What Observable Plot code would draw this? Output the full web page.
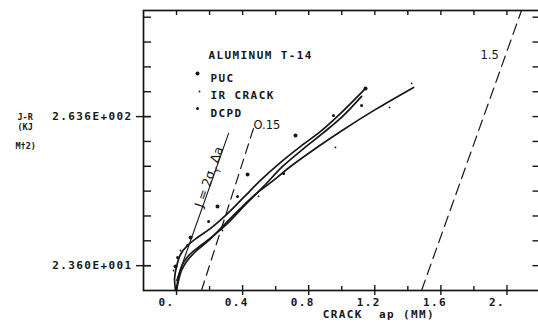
<!DOCTYPE html>
<html><head><meta charset="utf-8">
<script src="https://cdn.jsdelivr.net/npm/d3@7"></script>
<script src="https://cdn.jsdelivr.net/npm/@observablehq/plot@0.6"></script>
<style>
html,body{margin:0;padding:0;background:#fff;}
#chart{width:538px;height:326px;overflow:hidden;}
</style></head><body><div id="chart"></div>
<script>
// ---------- data (crack extension Δa in mm, J in kJ/m²) ----------
const chartTitle = "ALUMINUM T-14";
const seriesNames = ["PUC", "IR CRACK", "DCPD"];

// fitted J-R curves
const pucFitDa  = [-0.006,-0.012,0,0.024,0.067,0.127,0.206,0.297,0.400,0.508,0.630,0.751,0.872,0.993,1.144];
const pucFitJ   = [-16.4,2.9,22.3,41.6,56.1,69.0,83.5,104.4,131.8,160.8,189.8,215.6,239.7,268.7,309.0];
const dcpdFitDa = [0,0.012,0.036,0.079,0.139,0.218,0.315,0.418,0.527,0.642,0.763,0.884,1.005,1.120];
const dcpdFitJ  = [-16.4,6.2,25.5,41.6,54.5,70.6,93.1,122.1,151.1,183.3,210.7,236.5,263.9,296.1];
const irFitDa   = [0,0.012,0.030,0.061,0.109,0.188,0.285,0.387,0.484,0.587,0.690,0.841,0.993,1.205,1.435];
const irFitJ    = [-16.4,-0.3,15.8,30.3,44.8,62.5,88.3,115.7,139.8,160.8,183.3,212.3,239.7,275.2,310.6];

// measured points
const pucPtDa  = [1.144,0.430,0.720,0.248,0.085,-0.006];
const pucPtJ   = [309.0,170.5,233.3,118.9,69.0,22.3];
const irPtDa   = [0.962,1.289,1.423,0.496,0.278,0.024,-0.018];
const irPtJ    = [213.9,278.4,317.0,135.0,80.2,48.0,15.8];
const dcpdPtDa = [1.120,0.950,0.369,0.194,0.067,0.006,0.648];
const dcpdPtJ  = [281.6,265.5,135.0,94.7,56.1,36.8,172.1];

// construction lines
const bluntDa = [0, 0.315];        const bluntJ = [0, 236.5];     // J = 2σY Δa
const off015Da = [0.151, 0.466];   const off015J = [-16.4, 244.6]; // 0.15 offset
const off15Da = [1.483, 2.088];    const off15J = [-16.4, 434.4];  // 1.5 offset

// axis ticks
const xTickVals   = [0, 0.4, 0.8, 1.2, 1.6, 2.0];
const xTickLabels = ["0.", "0.4", "0.8", "1.2", "1.6", "2."];
const xMinorVals  = [0.2, 0.6, 1.0, 1.4, 1.8, 2.2];
const xTopVals    = [0,0.2,0.4,0.6,0.8,1.0,1.2,1.4,1.6,1.8,2.0,2.2];
const yTickVals   = [23.6,63.6,103.6,143.6,183.6,223.6,263.6,303.6,343.6,383.6,423.6];
const yLabelVals  = [23.6, 263.6];
const yLabelTexts = ["2.360E+001", "2.636E+002"];
const yTitleLines = ["J-R", "(KJ", "M\u20202)"];
const xTitle = "CRACK  ap (MM)";

// ---------- layout ----------
const W = 538, H = 326, mL = 143, mR = -1.5, mT = 10, mB = 36;
const fw = W - mL - mR, fh = H - mT - mB;
const ink = "#161616";
const mono = "'DejaVu Sans Mono', monospace";
const hand = "'DejaVu Sans', sans-serif";
const zip = (a, b) => a.map((v, i) => ({da: v, J: b[i]}));
const monoText = {fontFamily: mono, fontWeight: "bold", fontSize: 11, fill: ink};
const titleText = {fontFamily: mono, fontWeight: "bold", fontSize: 8.5, fill: ink, textAnchor: "start", frameAnchor: "left"};

const chart = Plot.plot({
  width: W, height: H,
  marginLeft: mL, marginRight: mR, marginTop: mT, marginBottom: mB,
  x: {domain: [-0.2, 2.2], axis: null},
  y: {domain: [-16.4, 434.4], axis: null},
  style: {background: "#fff", color: ink, overflow: "hidden"},
  marks: [
    // ticks
    Plot.ruleX(xMinorVals, {x: d => d, insetTop: fh - 4, stroke: ink, strokeWidth: 1.4}),
    Plot.ruleX(xTickVals, {x: d => d, insetTop: fh - 5, insetBottom: -5, stroke: ink, strokeWidth: 1.4}),
    Plot.ruleX(xTopVals, {x: d => d, insetBottom: fh - 5, stroke: ink, strokeWidth: 1.4}),
    Plot.ruleY(yTickVals, {y: d => d, insetRight: fw - 8, stroke: ink, strokeWidth: 1.4}),
    Plot.ruleY(yLabelVals, {y: d => d, insetLeft: -7, insetRight: fw - 8, stroke: ink, strokeWidth: 1.4}),
    Plot.ruleY(yTickVals, {y: d => d, insetLeft: fw - 7, stroke: ink, strokeWidth: 1.4}),
    Plot.frame({stroke: ink, strokeWidth: 1.7}),
    // tick labels and titles
    Plot.text(xTickVals, {x: d => d, text: (d, i) => xTickLabels[i], frameAnchor: "bottom", dy: 15.5, dx: -18, textAnchor: "start", ...monoText}),
    Plot.text(yLabelVals, {y: d => d, text: (d, i) => yLabelTexts[i], frameAnchor: "left", dx: -11, textAnchor: "end", ...monoText}),
    Plot.text([xTitle], {text: d => d, frameAnchor: "bottom", dx: -19, dy: 27.5, textAnchor: "start", ...monoText}),
    Plot.text([yTitleLines[0]], {text: d => d, dx: -126, dy: -33, ...titleText}),
    Plot.text([yTitleLines[1]], {text: d => d, dx: -126, dy: -23, ...titleText}),
    Plot.text([yTitleLines[2]], {text: d => d, dx: -128, dy: -4, ...titleText}),
    // legend
    Plot.text([chartTitle], {text: d => d, frameAnchor: "top-left", dx: 65, dy: 41, textAnchor: "start", ...monoText}),
    Plot.text([seriesNames[0]], {text: d => d, frameAnchor: "top-left", dx: 67, dy: 63.5, textAnchor: "start", ...monoText}),
    Plot.text([seriesNames[1]], {text: d => d, frameAnchor: "top-left", dx: 67, dy: 81, textAnchor: "start", ...monoText}),
    Plot.text([seriesNames[2]], {text: d => d, frameAnchor: "top-left", dx: 67, dy: 98.5, textAnchor: "start", ...monoText}),
    Plot.dot([seriesNames[0]], {frameAnchor: "top-left", dx: 54, dy: 63, r: 2.0, fill: ink, stroke: null}),
    Plot.dot([seriesNames[1]], {frameAnchor: "top-left", dx: 56, dy: 81, r: 0.9, fill: ink, stroke: null}),
    Plot.dot([seriesNames[2]], {frameAnchor: "top-left", dx: 54, dy: 98, r: 1.5, fill: ink, stroke: null}),
    // construction lines
    Plot.line(zip(bluntDa, bluntJ), {x: "da", y: "J", stroke: ink, strokeWidth: 1.1}),
    Plot.line(zip(off015Da, off015J), {x: "da", y: "J", stroke: ink, strokeWidth: 1.2, strokeDasharray: "10,6"}),
    Plot.line(zip(off15Da, off15J), {x: "da", y: "J", stroke: ink, strokeWidth: 1.2, strokeDasharray: "11,6"}),
    Plot.text(["O.15"], {text: d => d, frameAnchor: "top-left", dx: 110, dy: 110, textAnchor: "start", fontFamily: hand, fontSize: 11.5, fill: ink}),
    Plot.text(["1.5"], {text: d => d, frameAnchor: "top-left", dx: 337, dy: 40, textAnchor: "start", fontFamily: hand, fontSize: 11.5, fill: ink}),
    Plot.text(["J = 2σYΔa"], {text: d => d, frameAnchor: "top-left", dx: 61, dy: 165, rotate: -71, textAnchor: "middle", fontFamily: hand, fontSize: 12.5, fill: ink}),
    // fitted curves
    Plot.line(zip(pucFitDa, pucFitJ), {x: "da", y: "J", curve: "catmull-rom", stroke: ink, strokeWidth: 1.7}),
    Plot.line(zip(dcpdFitDa, dcpdFitJ), {x: "da", y: "J", curve: "catmull-rom", stroke: ink, strokeWidth: 1.7}),
    Plot.line(zip(irFitDa, irFitJ), {x: "da", y: "J", curve: "catmull-rom", stroke: ink, strokeWidth: 1.7}),
    // points
    Plot.dot(zip(pucPtDa, pucPtJ), {x: "da", y: "J", r: 2.0, fill: ink, stroke: null}),
    Plot.dot(zip(irPtDa, irPtJ), {x: "da", y: "J", r: 0.9, fill: ink, stroke: null}),
    Plot.dot(zip(dcpdPtDa, dcpdPtJ), {x: "da", y: "J", r: 1.5, fill: ink, stroke: null})
  ]
});
document.getElementById("chart").appendChild(chart);

// letter spacing for the 11px plotter-style text, subscript for σY
d3.select(chart).selectAll("g").each(function() {
  const ff = this.getAttribute("font-family") || "";
  const fs = this.getAttribute("font-size") || "";
  if (ff.includes("Mono") && fs === "11") this.style.letterSpacing = "1.4px";
});
d3.select(chart).selectAll("text").each(function() {
  const t = this.textContent;
  if (t.includes("σY")) {
    this.textContent = "";
    const s = d3.select(this);
    s.append("tspan").text("J = 2σ");
    s.append("tspan").attr("baseline-shift", "sub").attr("font-size", 8.5).text("Y");
    s.append("tspan").text(" Δa");
  }
});
</script></body></html>
